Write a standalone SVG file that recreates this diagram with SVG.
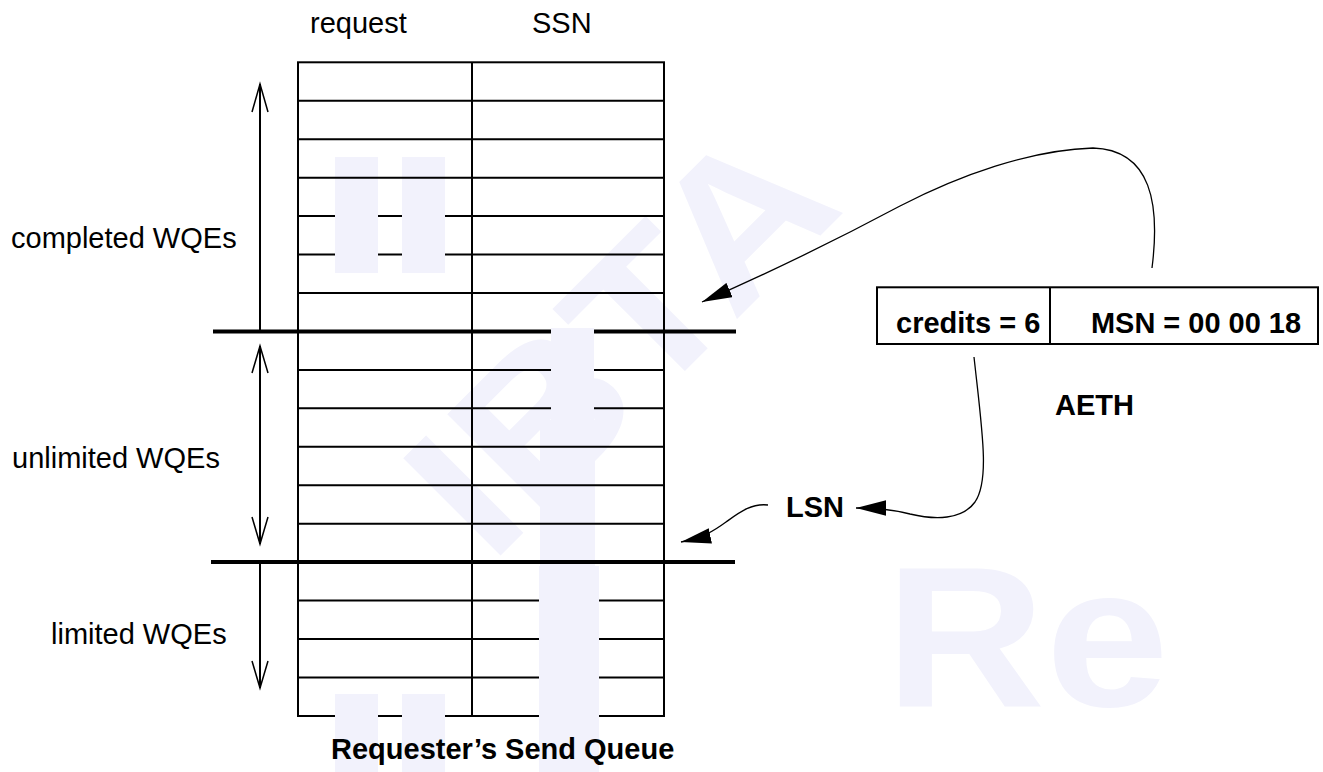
<svg xmlns="http://www.w3.org/2000/svg" width="1323" height="772" viewBox="0 0 1323 772">
<style>
.t{font-family:"Liberation Sans",Arial,Helvetica,sans-serif;font-size:29px;fill:#000}
.b{font-weight:bold}
.thin{stroke:#000;stroke-width:2;fill:none}
.thick{stroke:#000;stroke-width:4;fill:none}
.ax{stroke:#000;stroke-width:2;fill:none}
.wing{stroke:#000;stroke-width:1.5;fill:none}
.curve{stroke:#000;stroke-width:1.3;fill:none;marker-end:url(#ah)}
.wm{fill:#f2f2fc}
.wmt{font-family:"Liberation Sans",Arial,sans-serif;font-weight:bold;font-size:200px;fill:#f2f2fc}
</style>
<defs>
<marker id="ah" markerUnits="userSpaceOnUse" markerWidth="30" markerHeight="16" viewBox="0 0 29 15" refX="29" refY="7.5" orient="auto">
<path d="M0,0 L29,7.5 L0,15 Z" fill="#000"/>
</marker>
</defs>
<rect width="1323" height="772" fill="#fff"/>
<g id="watermark-back">
<text class="wmt" transform="translate(490,566) rotate(-45)" x="0" y="0" textLength="505" lengthAdjust="spacingAndGlyphs">IBTA</text>
<text class="wmt" x="885" y="706" textLength="284" lengthAdjust="spacingAndGlyphs">Re</text>
<rect class="wm" x="335" y="157" width="43" height="34"/>
<rect class="wm" x="402" y="157" width="43" height="34"/>
<rect class="wm" x="540" y="420" width="55" height="146"/>
</g>
<g id="table">
<rect class="thin" x="298" y="62.3" width="366" height="653.7"/>
<line class="thin" x1="472" y1="62.3" x2="472" y2="716"/>
<path class="thin" d="M298,100.75H664M298,139.2H664M298,177.65H664M298,216.1H664M298,254.55H664M298,293H664M298,369.9H664M298,408.35H664M298,446.8H664M298,485.25H664M298,523.7H664M298,600.6H664M298,639.05H664M298,677.5H664"/>
<line class="thick" x1="213" y1="331.5" x2="736" y2="331.5"/>
<line class="thick" x1="211" y1="562" x2="735" y2="562"/>
</g>
<g id="watermark-front">
<rect class="wm" x="335" y="191" width="43" height="82"/>
<rect class="wm" x="402" y="191" width="43" height="82"/>
<rect class="wm" x="335" y="694" width="43" height="78"/>
<rect class="wm" x="402" y="694" width="43" height="78"/>
<rect class="wm" x="551" y="328" width="43" height="92"/>
<rect class="wm" x="539" y="566" width="60" height="206"/>
</g>
<g id="column-headers">
<text class="t" x="310" y="33">request</text>
<text class="t" x="532" y="33">SSN</text>
</g>
<g id="completed">
<line class="ax" x1="260" y1="331" x2="260" y2="84"/>
<polyline class="wing" points="252,112 260,84 268,112"/>
<text class="t" x="11" y="248">completed WQEs</text>
</g>
<g id="unlimited">
<line class="ax" x1="260" y1="346" x2="260" y2="544"/>
<polyline class="wing" points="252,373 260,346 268,373"/>
<polyline class="wing" points="252,517 260,544 268,517"/>
<text class="t" x="12" y="468">unlimited WQEs</text>
</g>
<g id="limited">
<line class="ax" x1="260" y1="563" x2="260" y2="688"/>
<polyline class="wing" points="252,661 260,688 268,661"/>
<text class="t" x="51" y="644">limited WQEs</text>
</g>
<g id="queue-title">
<text class="t b" x="331" y="759">Requester’s Send Queue</text>
</g>
<g id="aeth">
<rect class="thin" x="877" y="287.3" width="441" height="56.7"/>
<line class="thin" x1="1050" y1="287.3" x2="1050" y2="344"/>
<text class="t b" x="896" y="333">credits = 6</text>
<text class="t b" x="1091" y="333" textLength="210" lengthAdjust="spacingAndGlyphs">MSN = 00 00 18</text>
<text class="t b" x="1055" y="415">AETH</text>
</g>
<g id="lsn">
<text class="t b" x="786" y="517">LSN</text>
</g>
<g id="connectors">
<path class="curve" d="M1152,268 C1160,205 1152,150 1093,148 C1030,150 960,175 900,206 C840,238 780,268 702,302"/>
<path class="curve" d="M974,357 C982,430 990,480 975,502 C962,520 935,520 910,514 C895,510 880,508 856,508"/>
<path class="curve" d="M768,505 C752,503 740,512 726,522 C715,530 705,537 681,542"/>
</g>
</svg>
